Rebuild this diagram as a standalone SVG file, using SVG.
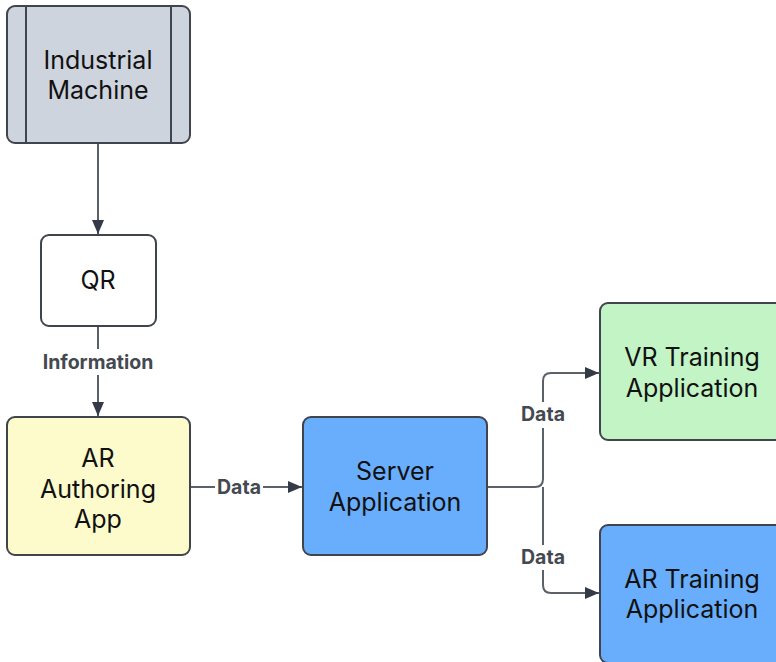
<svg xmlns="http://www.w3.org/2000/svg" width="776" height="662" viewBox="0 0 776 662">
<defs>
<style>
.node{stroke:#3f444d;stroke-width:2}
.t{font-family:Inter,"Liberation Sans",sans-serif;font-size:25px;fill:#111;text-anchor:middle}
.lbl{font-family:Inter,"Liberation Sans",sans-serif;font-size:19.5px;font-weight:bold;fill:#444950;text-anchor:middle}
.edge{fill:none;stroke:#5b6069;stroke-width:2}
</style>
<marker id="ah" markerWidth="14" markerHeight="14" viewBox="0 0 14 14" refX="14" refY="7" orient="auto" markerUnits="userSpaceOnUse">
<path d="M0,1 L14,7 L0,13 Z" fill="#343a46"/>
</marker>
</defs>
<rect width="776" height="662" fill="#ffffff"/>
<g id="connectors">
<path class="edge" d="M98,143 V234" marker-end="url(#ah)"/>
<path class="edge" d="M98,327 V349"/>
<path class="edge" d="M98,375 V416" marker-end="url(#ah)"/>
<text class="lbl" x="98" y="369">Information</text>
<path class="edge" d="M190,487 H215"/>
<path class="edge" d="M263,487 H302" marker-end="url(#ah)"/>
<text class="lbl" x="239" y="494">Data</text>
<path class="edge" d="M487,487 H535 Q543,487 543,479 V428"/>
<path class="edge" d="M543,402 V381 Q543,373 551,373 H599" marker-end="url(#ah)"/>
<text class="lbl" x="543" y="421">Data</text>
<path class="edge" d="M543,487 Q543,487 543,495 V545"/>
<path class="edge" d="M543,570 V585 Q543,593 551,593 H599" marker-end="url(#ah)"/>
<text class="lbl" x="543" y="564">Data</text>
</g>
<g id="industrial-machine">
<rect class="node" x="7" y="6" width="183" height="137" rx="8" fill="#ced4de"/>
<line class="node" x1="26" y1="6" x2="26" y2="143"/>
<line class="node" x1="171" y1="6" x2="171" y2="143"/>
<text class="t" x="98" y="69">Industrial</text>
<text class="t" x="98" y="99">Machine</text>
</g>
<g id="qr">
<rect class="node" x="41" y="235" width="115" height="91" rx="8" fill="#ffffff"/>
<text class="t" x="98" y="289">QR</text>
</g>
<g id="ar-authoring-app">
<rect class="node" x="7" y="417" width="183" height="138" rx="8" fill="#fdfbcb"/>
<text class="t" x="98" y="467">AR</text>
<text class="t" x="98" y="498">Authoring</text>
<text class="t" x="98" y="528">App</text>
</g>
<g id="server-application">
<rect class="node" x="303" y="417" width="184" height="138" rx="8" fill="#69aefc"/>
<text class="t" x="395" y="480">Server</text>
<text class="t" x="395" y="511">Application</text>
</g>
<g id="vr-training-application">
<rect class="node" x="600" y="303" width="190" height="137" rx="8" fill="#c2f4c6"/>
<text class="t" x="692" y="366">VR Training</text>
<text class="t" x="692" y="397">Application</text>
</g>
<g id="ar-training-application">
<rect class="node" x="600" y="525" width="190" height="138" rx="8" fill="#69aefc"/>
<text class="t" x="692" y="588">AR Training</text>
<text class="t" x="692" y="618">Application</text>
</g>
</svg>
